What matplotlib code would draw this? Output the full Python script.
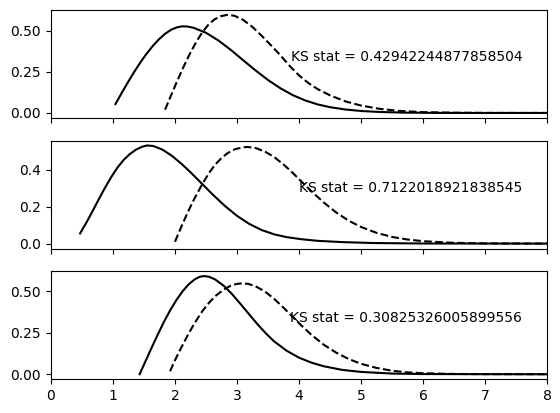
import matplotlib
matplotlib.use("Agg")
import matplotlib.pyplot as plt

# panel 1
x1_solid = [1.04, 1.14, 1.24, 1.34, 1.44, 1.54, 1.64, 1.74, 1.84, 1.94, 2.04, 2.12, 2.20, 2.30,
            2.50, 2.70, 2.90, 3.10, 3.30, 3.50, 3.70, 3.90, 4.10, 4.30, 4.50, 4.75, 5.00, 5.30,
            5.70, 6.20, 7.00, 8.00]
y1_solid = [0.054, 0.121, 0.186, 0.248, 0.306, 0.359, 0.406, 0.447, 0.481, 0.506, 0.521, 0.526,
            0.525, 0.517, 0.487, 0.440, 0.383, 0.320, 0.258, 0.200, 0.150, 0.108, 0.076, 0.052,
            0.035, 0.021, 0.012, 0.006, 0.002, 0.0005, 0.0, 0.0]
x1_dash = [1.84, 1.94, 2.04, 2.14, 2.24, 2.34, 2.44, 2.54, 2.64, 2.74, 2.85, 2.96, 3.10, 3.25,
           3.40, 3.55, 3.70, 3.85, 4.00, 4.15, 4.30, 4.50, 4.75, 5.00, 5.30, 5.60, 6.00, 6.50,
           7.00, 8.00]
y1_dash = [0.020, 0.110, 0.198, 0.282, 0.360, 0.430, 0.490, 0.537, 0.569, 0.588, 0.596, 0.590,
           0.565, 0.522, 0.468, 0.410, 0.350, 0.285, 0.228, 0.182, 0.145, 0.107, 0.070, 0.045,
           0.025, 0.013, 0.005, 0.0015, 0.0003, 0.0]

# panel 2
x2_solid = [0.47, 0.57, 0.67, 0.77, 0.87, 0.97, 1.07, 1.17, 1.27, 1.37, 1.47, 1.55, 1.65, 1.80,
            1.95, 2.10, 2.25, 2.44, 2.60, 2.80, 3.00, 3.20, 3.40, 3.60, 3.80, 4.03, 4.30, 4.70,
            5.20, 6.00, 8.00]
y2_solid = [0.055, 0.113, 0.175, 0.239, 0.301, 0.359, 0.410, 0.452, 0.484, 0.508, 0.524, 0.531,
            0.528, 0.508, 0.475, 0.433, 0.386, 0.322, 0.268, 0.205, 0.150, 0.106, 0.073, 0.050,
            0.035, 0.024, 0.015, 0.008, 0.003, 0.0005, 0.0]
x2_dash = [2.00, 2.10, 2.20, 2.30, 2.44, 2.55, 2.65, 2.75, 2.85, 2.97, 3.10, 3.17, 3.30, 3.45,
           3.60, 3.75, 3.90, 4.05, 4.20, 4.40, 4.60, 4.80, 5.00, 5.25, 5.50, 5.75, 6.00, 6.50,
           7.00, 8.00]
y2_dash = [0.010, 0.090, 0.165, 0.235, 0.322, 0.383, 0.428, 0.463, 0.490, 0.511, 0.521, 0.523,
           0.517, 0.498, 0.468, 0.428, 0.382, 0.332, 0.283, 0.222, 0.168, 0.124, 0.090, 0.058,
           0.036, 0.022, 0.013, 0.004, 0.001, 0.0]

# panel 3
x3_solid = [1.43, 1.52, 1.62, 1.72, 1.82, 1.92, 2.02, 2.12, 2.22, 2.32, 2.40, 2.47, 2.55, 2.65,
            2.79, 2.92, 3.06, 3.20, 3.33, 3.47, 3.60, 3.80, 4.00, 4.20, 4.40, 4.70, 5.00, 5.50,
            6.00, 8.00]
y3_solid = [0.0, 0.075, 0.158, 0.238, 0.315, 0.385, 0.447, 0.500, 0.543, 0.574, 0.589, 0.593,
            0.589, 0.572, 0.533, 0.484, 0.423, 0.360, 0.302, 0.245, 0.198, 0.142, 0.100, 0.070,
            0.048, 0.026, 0.014, 0.004, 0.001, 0.0]
x3_dash = [1.92, 2.00, 2.10, 2.20, 2.31, 2.42, 2.52, 2.65, 2.79, 2.90, 3.00, 3.08, 3.18, 3.30,
           3.45, 3.60, 3.75, 3.90, 4.05, 4.20, 4.40, 4.60, 4.80, 5.00, 5.25, 5.50, 5.75, 6.00,
           6.50, 7.00, 8.00]
y3_dash = [0.018, 0.085, 0.160, 0.232, 0.305, 0.370, 0.420, 0.472, 0.513, 0.535, 0.546, 0.549,
           0.546, 0.531, 0.500, 0.455, 0.402, 0.345, 0.290, 0.238, 0.178, 0.130, 0.092, 0.063,
           0.038, 0.021, 0.011, 0.006, 0.0015, 0.0003, 0.0]

ks_stats = [0.42942244877858504, 0.7122018921838545, 0.30825326005899556]

panels = [
    (x1_solid, y1_solid, x1_dash, y1_dash),
    (x2_solid, y2_solid, x2_dash, y2_dash),
    (x3_solid, y3_solid, x3_dash, y3_dash),
]

fig, axes = plt.subplots(3, 1, sharex=True, figsize=(5.6, 4.13), dpi=100)

for ax, (xs, ys, xd, yd), ks in zip(axes, panels, ks_stats):
    ax.plot(xs, ys, color="black", linestyle="-")
    ax.plot(xd, yd, color="black", linestyle="--")
    ax.text(0.95, 0.5, f"KS stat = {ks}", transform=ax.transAxes,
            ha="right", va="bottom")

axes[-1].set_xlim(0, 8)

plt.subplots_adjust(left=0.091, right=0.977, top=0.976, bottom=0.082, hspace=0.21)
plt.savefig("out.png")
